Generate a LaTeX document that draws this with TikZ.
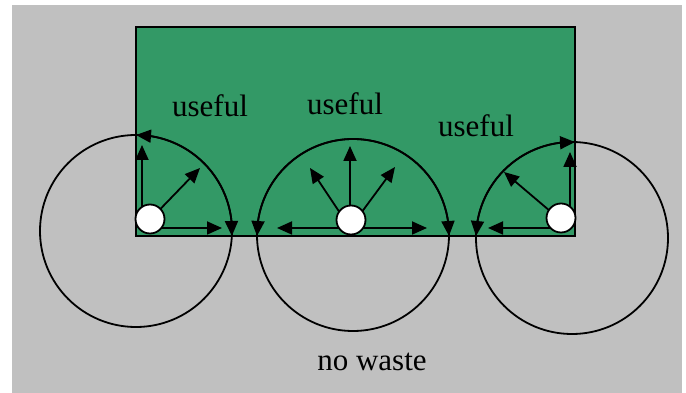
\documentclass[tikz,border=0pt]{standalone}
\usepackage{fontspec}
\setmainfont{Liberation Serif}
\usetikzlibrary{arrows.meta, bending}
\definecolor{seagreen}{RGB}{51,153,102}
\definecolor{panelgray}{RGB}{192,192,192}

\begin{document}
\begin{tikzpicture}[x=1pt, y=1pt, line width=1.8pt,
  ray/.style={-{Triangle[length=15pt,width=13pt]}},
  rayarc/.style={{Triangle[length=15pt,width=13pt]}-{Triangle[length=15pt,width=13pt]}},
  src/.style={circle, draw, fill=white, minimum size=29pt, inner sep=0pt},
  lbl/.style={anchor=base, inner sep=0pt, font=\fontsize{31}{36}\selectfont}]

\useasboundingbox (0,0) rectangle (686,393);

% --- layout helpers ---
\def\R{96}   % radius of each circle

% --- background and useful area ---
\fill[panelgray] (12,0) rectangle (682,388);
\draw[fill=seagreen] (136,157) rectangle (575,366);

% --- circle centres ---
\coordinate (c1) at (136,162);
\coordinate (c2) at (353,158);
\coordinate (c3) at (572,155);

\draw (c1) circle[radius=\R];
\draw (c2) circle[radius=\R];
\draw (c3) circle[radius=\R];

% --- useful arcs (inside the green) ---
\coordinate (a1) at ([shift={(-3:\R)}]c1);
\coordinate (a2) at ([shift={(-0.6:\R)}]c2);
\coordinate (a3) at ([shift={(88.2:\R)}]c3);
\draw[rayarc] (a1) arc[start angle=-3, end angle=90, radius=\R];
\draw[rayarc] (a2) arc[start angle=-0.6, end angle=180.6, radius=\R];
\draw[rayarc] (a3) arc[start angle=88.2, end angle=178.8, radius=\R];

% --- rays of the left source ---
\coordinate (o1) at (142,165);
\coordinate (t1up) at (142,248);
\coordinate (t1d) at (200,225);
\coordinate (t1r) at (222,165);
\draw[ray] (o1) -- (t1up);
\draw[ray] (o1) -- (t1d);
\draw[ray] (o1) -- (t1r);

% --- rays of the middle source ---
\coordinate (o2) at (350,165);
\coordinate (t2up) at (350,247);
\coordinate (t2dl) at (310,225);
\coordinate (t2dr) at (395,226);
\coordinate (t2l) at (277,165);
\coordinate (t2r) at (427,165);
\draw[ray] (o2) -- (t2up);
\draw[ray] (o2) -- (t2dl);
\draw[ray] (o2) -- (t2dr);
\draw[ray] (o2) -- (t2l);
\draw[ray] (o2) -- (t2r);

% --- rays of the right source ---
\coordinate (o3) at (570,165);
\coordinate (t3up) at (570,241);
\coordinate (t3d) at (504,221);
\coordinate (t3l) at (488,165);
\draw[ray] (o3) -- (t3up);
\draw[ray] (o3) -- (t3d);
\draw[ray] (o3) -- (t3l);

% --- sources ---
\node[src] (src1) at (150,174) {};
\node[src] (src2) at (351,173) {};
\node[src] (src3) at (561,175) {};

% --- labels ---
\node[lbl] (use1) at (210,276) {useful};
\node[lbl] (use2) at (345,278) {useful};
\node[lbl] (use3) at (476,256) {useful};
\node[lbl] (waste) at (372,22) {no waste};

\end{tikzpicture}
\end{document}
